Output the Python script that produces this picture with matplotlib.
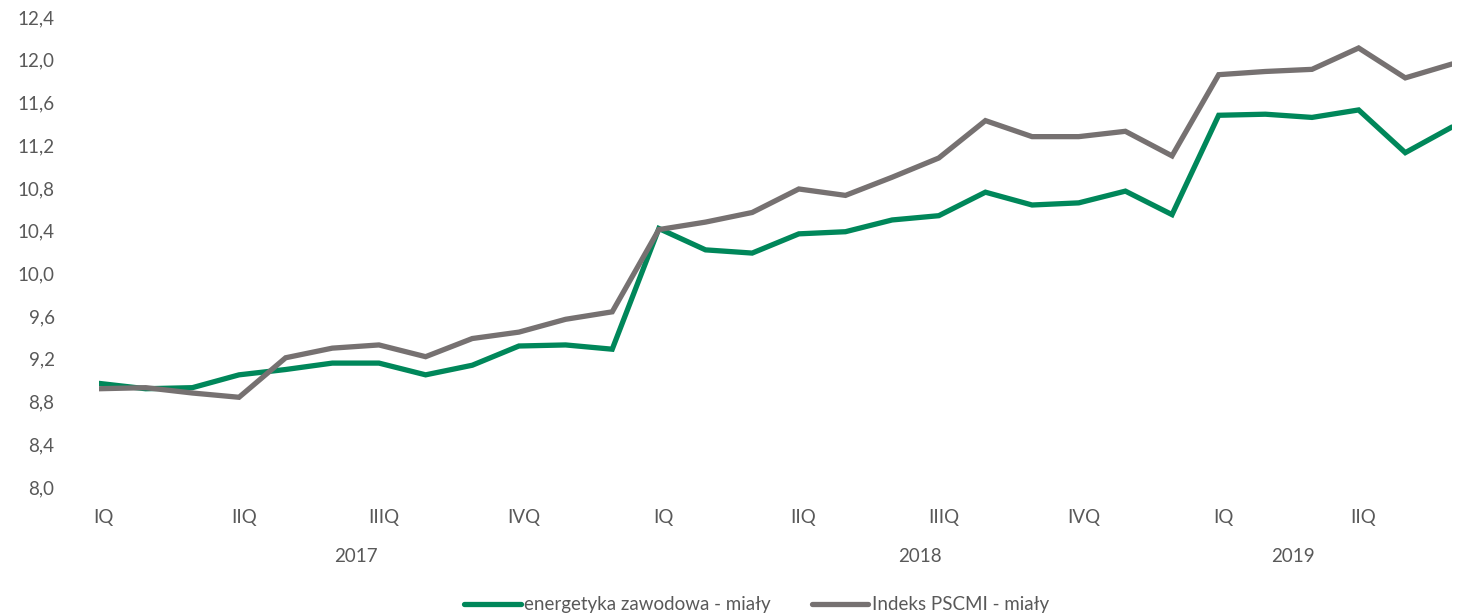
import numpy as np
import matplotlib.pyplot as plt

# monthly values, Jan 2017 - Jun 2019
energetyka = [8.97, 8.92, 8.93, 9.05, 9.10, 9.16, 9.16, 9.05, 9.14, 9.32, 9.33, 9.29,
              10.42, 10.22, 10.19, 10.37, 10.39, 10.50, 10.54, 10.76, 10.64, 10.66, 10.77, 10.55,
              11.48, 11.49, 11.46, 11.53, 11.13, 11.37]
pscmi = [8.92, 8.93, 8.88, 8.84, 9.21, 9.30, 9.33, 9.22, 9.39, 9.45, 9.57, 9.64,
         10.41, 10.48, 10.57, 10.79, 10.73, 10.90, 11.08, 11.43, 11.28, 11.28, 11.33, 11.10,
         11.86, 11.89, 11.91, 12.11, 11.83, 11.96]
quarters = ["IQ", "IIQ", "IIIQ", "IVQ", "IQ", "IIQ", "IIIQ", "IVQ", "IQ", "IIQ"]
years = ["2017", "2018", "2019"]
year_pos = [5.5, 17.6, 25.6]

plt.rcParams['font.family'] = ['Lato', 'DejaVu Sans']
txt = '#595959'
fs = 13.5

fig = plt.figure(figsize=(14.61, 6.16), dpi=100)
ax = fig.add_axes([0.0678, 0.2094, 0.9938 - 0.0678, 0.9724 - 0.2094])

x = np.arange(len(energetyka))
ax.plot(x, energetyka, color='#00875A', lw=3.8, solid_joinstyle='miter',
        solid_capstyle='round', label='energetyka zawodowa - miały')
ax.plot(x, pscmi, color='#767171', lw=3.8, solid_joinstyle='miter',
        solid_capstyle='round', label='Indeks PSCMI - miały')

ax.set_xlim(0, len(x) - 1)
ax.set_ylim(8.0, 12.4)
yt = np.arange(8.0, 12.41, 0.4)
ax.set_yticks(yt)
ax.set_yticklabels([f"{v:.1f}".replace('.', ',') for v in yt], fontsize=fs, color=txt)
ax.set_xticks(np.arange(0, len(x), 3) + 0.1)
ax.set_xticklabels(quarters, fontsize=fs, color=txt)
ax.tick_params(axis='y', length=0, pad=32)
ax.tick_params(axis='x', length=0, pad=16)
for s in ax.spines.values():
    s.set_visible(False)

for yr, p in zip(years, year_pos):
    ax.text(p, -0.147, yr, transform=ax.get_xaxis_transform(), ha='center', va='center',
            fontsize=fs, color=txt)

fig.legend(loc='center', bbox_to_anchor=(0.518, 0.018), ncol=2, frameon=False,
           fontsize=fs, labelcolor=txt, handlelength=3.0, handletextpad=0.2,
           columnspacing=2.2)

fig.savefig('out.png', dpi=100)
